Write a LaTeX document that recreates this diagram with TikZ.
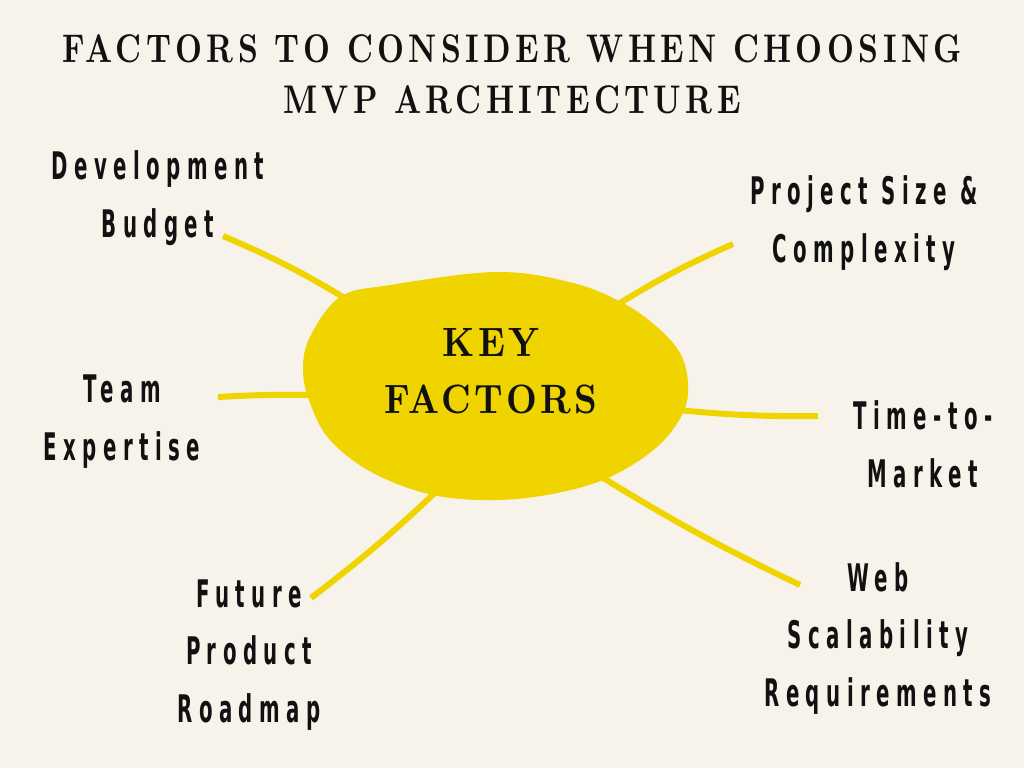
\documentclass[tikz,border=0pt]{standalone}
\usepackage{fontspec}
\newfontfamily\titlefont{lmroman10-bold.otf}[FakeStretch=0.78,LetterSpace=11]
\newfontfamily\keyfont{lmroman10-bold.otf}[FakeStretch=0.87,LetterSpace=8]
\newfontfamily\labelfont{DejaVu Sans Bold}[FakeStretch=0.52,LetterSpace=17]
\definecolor{bg}{HTML}{F7F3EB}
\definecolor{sun}{HTML}{EFD400}
\definecolor{ink}{HTML}{111111}
\tikzset{
  lbl/.style={anchor=base,align=center,inner sep=0pt,text=ink,font={\labelfont\fontsize{38}{57.5}\selectfont}},
  ray/.style={draw=sun,line width=6pt,line cap=butt},
  ttl/.style={anchor=base,align=center,inner sep=0pt,text=ink,font={\titlefont\fontsize{40}{51}\selectfont}},
  keytxt/.style={anchor=base,align=center,inner sep=0pt,text=ink,font={\keyfont\fontsize{41}{57}\selectfont}}
}
\begin{document}
\begin{tikzpicture}[x=1pt,y=-1pt]
\useasboundingbox (0,0) rectangle (1024,768);
\fill[bg] (0,0) rectangle (1024,768);
% title (anchor = baseline of last line)
\node[ttl] (title) at (512,113) {FACTORS TO CONSIDER WHEN CHOOSING\\MVP ARCHITECTURE};
% connector end points
\coordinate (b1) at (223,236); \coordinate (b2) at (348,300);
\coordinate (t1) at (218,397); \coordinate (t2) at (312,395);
\coordinate (p1) at (733,244); \coordinate (p2) at (612,308);
\coordinate (m1) at (818,416); \coordinate (m2) at (678,410);
\coordinate (f1) at (311,598); \coordinate (f2) at (440,488);
\coordinate (w1) at (800,585); \coordinate (w2) at (600,476);
\draw[ray] (b1) to[bend left=4] (b2);
\draw[ray] (t1) to[bend left=2] (t2);
\draw[ray] (p1) to[bend right=4] (p2);
\draw[ray] (m1) to[bend left=3] (m2);
\draw[ray] (f1) to[bend right=3] (f2);
\draw[ray] (w1) to[bend left=3] (w2);
% blob
\fill[sun] plot[smooth cycle,tension=0.6] coordinates {
 (497,272) (573,283) (623,303) (657,327) (680,353) (688,383) (683,413)
 (657,447) (610,477) (557,493) (497,500) (433,495) (373,473) (330,440)
 (310,403) (303,370) (310,337) (340,297) (390,285)};
\node[keytxt] (key) at (491,413) {KEY\\FACTORS};
% labels
\node[lbl] (budget) at (158,237) {Development\\Budget};
\node[lbl] (team) at (122,460) {Team\\Expertise};
\node[lbl] (project) at (864,262) {Project Size \&\\Complexity};
\node[lbl] (time) at (923,487) {Time-to-\\Market};
\node[lbl] (future) at (249,722) {Future\\Product\\Roadmap};
\node[lbl] (web) at (878,706) {Web\\Scalability\\Requirements};
\end{tikzpicture}
\end{document}
